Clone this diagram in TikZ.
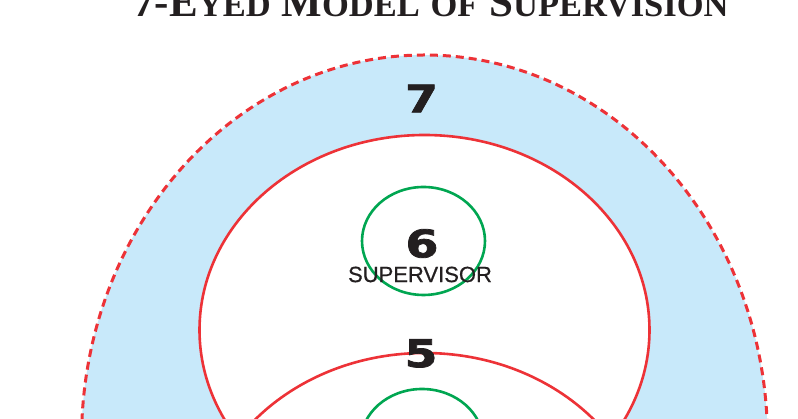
\documentclass[tikz,border=0pt]{standalone}
\usepackage{fontspec}
\setmainfont{Liberation Serif}
\newfontfamily\labelfont[FakeBold=0.6]{Liberation Sans}
\newfontfamily\numfont[FakeStretch=1.25, FakeBold=2]{DejaVu Sans}
\usetikzlibrary{shapes.geometric}
\definecolor{eyered}{RGB}{237,50,55}
\definecolor{eyegreen}{RGB}{0,166,81}
\definecolor{eyeblue}{RGB}{200,233,250}
\definecolor{ink}{RGB}{35,31,32}
\newcommand{\capword}[2]{{\fontsize{43}{43}\selectfont #1}{\fontsize{34.5}{34.5}\selectfont #2}}
\begin{document}
\begin{tikzpicture}[x=1pt, y=1pt,
  every node/.style = {inner sep=0pt, text=ink},
  ring/.style = {shape=ellipse, draw=eyered, line width=2.6pt, fill=white,
    minimum width=450pt, minimum height=390pt},
  eye/.style = {shape=ellipse, draw=eyegreen, line width=2.6pt,
    minimum width=123pt, minimum height=108pt},
  num/.style = {font=\numfont\bfseries\fontsize{38}{38}\selectfont}]
  \useasboundingbox (0,0) rectangle (798,419);
  \clip (0,0) rectangle (798,419);
  % title, mostly cut off at the top
  \node[anchor=base, font=\bfseries\fontsize{43}{43}\selectfont] (title) at (431,402)
    {\capword{7-E}{YED} \capword{M}{ODEL} \capword{}{OF} \capword{S}{UPERVISION}};
  % the seven eyes
  \node[shape=ellipse, draw=eyered, fill=eyeblue, line width=3pt,
    dash pattern=on 8pt off 5pt,
    minimum width=686pt, minimum height=770pt] (eye7) at (424.5,-21) {};
  \node[ring] (ring6) at (424.5,89) {};
  \node[ring] (ring5) at (424.5,-129) {};
  \node[eye] (sup) at (423.5,178) {};
  \node[eye] (low) at (422,-24) {};
  \node[num] (n7) at (421.5,320.5) {7};
  \node[num] (n6) at (422,175.5) {6};
  \node[num] (n5) at (421,65.5) {5};
  \node[font=\labelfont\fontsize{22}{22}\selectfont] (suplabel) at (420,144.5) {SUPERVISOR};
\end{tikzpicture}
\end{document}
